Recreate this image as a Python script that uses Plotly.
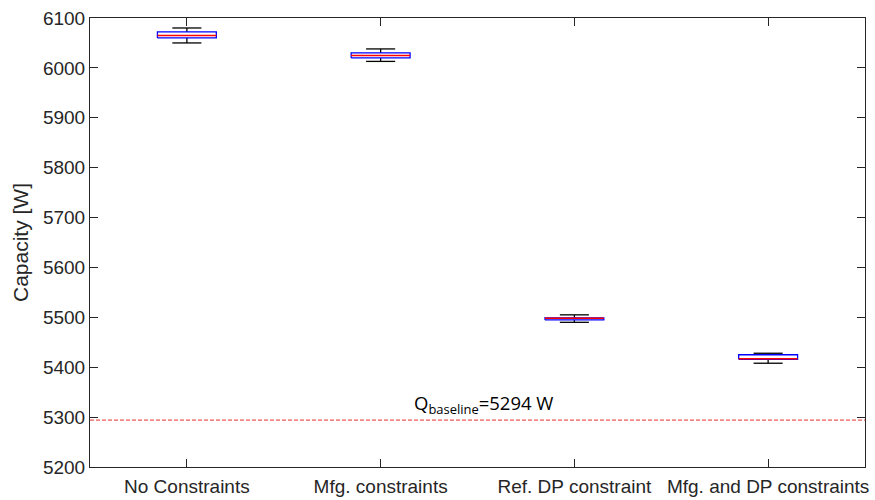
import plotly.graph_objects as go

# Capacity distributions per design case (box statistics, W)
categories = ["No Constraints", "Mfg. constraints", "Ref. DP constraint", "Mfg. and DP constraints"]
upper_whisker = [6080, 6038, 5505, 5428]
q3 = [6072, 6030, 5499, 5425]
median = [6065, 6025, 5498, 5417]
q1 = [6060, 6020, 5495, 5416]
lower_whisker = [6050, 6013, 5490, 5408]
baseline = 5294

y_ticks = [5200, 5300, 5400, 5500, 5600, 5700, 5800, 5900, 6000, 6100]

BOX_HALF = 0.152
CAP_HALF = 0.075

fig = go.Figure()

for i, name in enumerate(categories):
    xc = i + 1
    # whiskers and caps
    fig.add_trace(go.Scatter(
        x=[xc, xc, None, xc, xc, None,
           xc - CAP_HALF, xc + CAP_HALF, None, xc - CAP_HALF, xc + CAP_HALF],
        y=[q3[i], upper_whisker[i], None, q1[i], lower_whisker[i], None,
           upper_whisker[i], upper_whisker[i], None, lower_whisker[i], lower_whisker[i]],
        mode="lines", line=dict(color="black", width=1.3),
        hoverinfo="skip", showlegend=False))
    # box outline
    fig.add_trace(go.Scatter(
        x=[xc - BOX_HALF, xc + BOX_HALF, xc + BOX_HALF, xc - BOX_HALF, xc - BOX_HALF],
        y=[q1[i], q1[i], q3[i], q3[i], q1[i]],
        mode="lines", line=dict(color="#0000ff", width=1.3),
        fill="toself", fillcolor="white",
        name=name, showlegend=False))
    # median
    fig.add_trace(go.Scatter(
        x=[xc - BOX_HALF, xc + BOX_HALF], y=[median[i], median[i]],
        mode="lines", line=dict(color="#ff0000", width=1.5),
        hoverinfo="skip", showlegend=False))

# baseline capacity reference line
fig.add_trace(go.Scatter(
    x=[0.5, 4.5], y=[baseline, baseline], mode="lines",
    line=dict(color="#e83030", width=1, dash="4px,2px"),
    hoverinfo="skip", showlegend=False))

fig.add_annotation(
    x=2.53, y=5327, xref="x", yref="y",
    text=f"Q<sub>baseline</sub>={baseline} W",
    showarrow=False, font=dict(family="Open Sans", size=18.5, color="#000000"))

axis_common = dict(
    showline=True, linecolor="#262626", linewidth=1, mirror="ticks",
    ticks="inside", ticklen=8, tickcolor="#262626", showgrid=False,
    zeroline=False, automargin=False,
    tickfont=dict(family="Arial, Liberation Sans", size=19, color="#262626"))

fig.update_xaxes(range=[0.5, 4.5], tickvals=[1, 2, 3, 4], ticktext=categories,
                 ticklabelstandoff=2, **axis_common)
fig.update_yaxes(range=[5200, 6100], tickvals=y_ticks, ticktext=[str(v) for v in y_ticks],
                 title=dict(text="Capacity [W]", font=dict(family="Arial, Liberation Sans", size=21, color="#262626"),
                            standoff=8),
                 **axis_common)

fig.update_layout(
    width=875, height=500,
    margin=dict(l=90, r=10, t=18, b=33),
    paper_bgcolor="white", plot_bgcolor="white",
)

fig.write_html("out.html")
